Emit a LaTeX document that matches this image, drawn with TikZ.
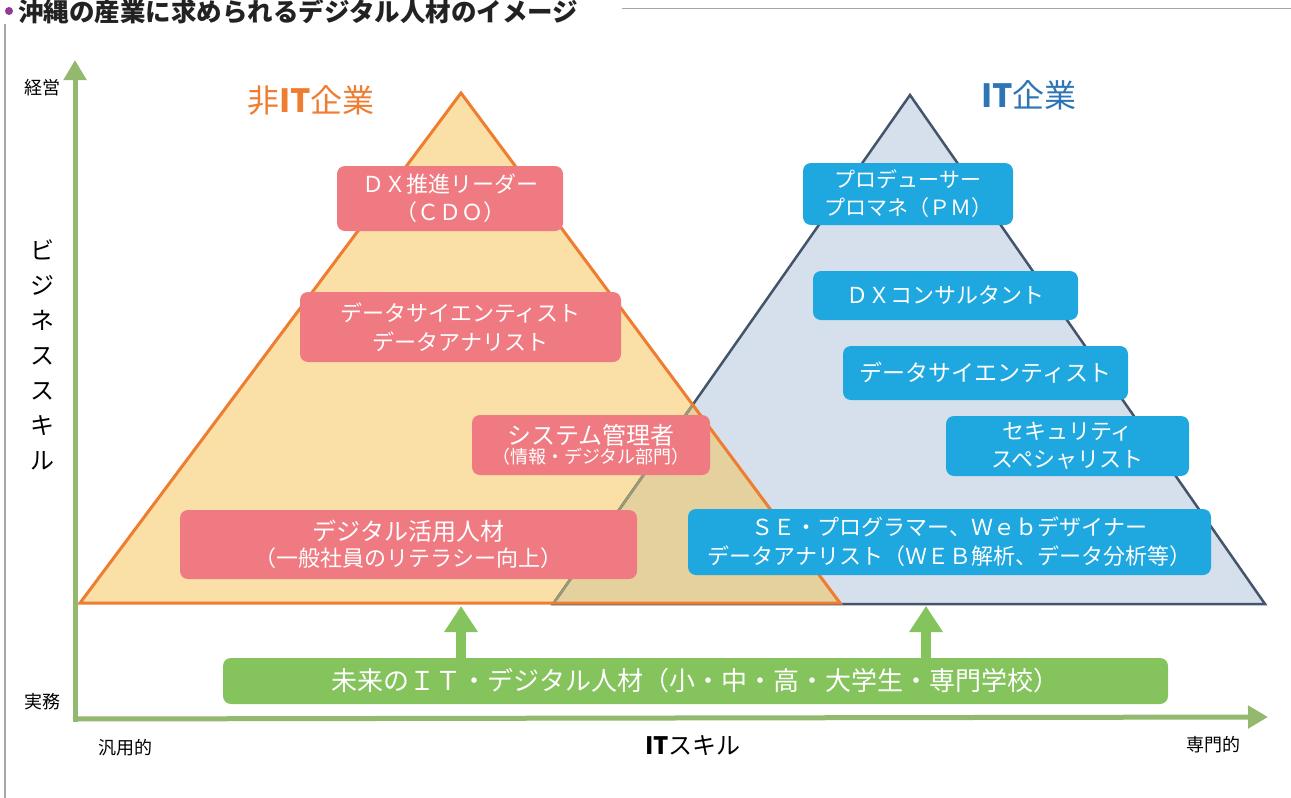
\documentclass[tikz,border=0pt]{standalone}
\usepackage{fontspec}
\setmainfont{Noto Sans CJK JP}
\usetikzlibrary{arrows.meta}
\definecolor{redbox}{HTML}{F07A82}
\definecolor{bluebox}{HTML}{1FA7DF}
\definecolor{greenbox}{HTML}{85C35C}
\definecolor{axisgreen}{HTML}{92B96E}
\definecolor{ofill}{HTML}{FADFA7}
\definecolor{ostroke}{HTML}{EE7D31}
\definecolor{bfill}{HTML}{D5E0EC}
\definecolor{bstroke}{HTML}{44546A}
\definecolor{tanfill}{HTML}{E5D19D}
\definecolor{tanedge}{HTML}{9A9A78}
\definecolor{itblue}{HTML}{2E75B6}
\definecolor{titlegray}{HTML}{222222}
\definecolor{bulletpurple}{HTML}{8E3A96}
\tikzset{
  rolebox/.style={rounded corners=8pt, text=white, align=center, inner sep=0pt},
  redrole/.style={rolebox, fill=redbox},
  bluerole/.style={rolebox, fill=bluebox},
  axislabel/.style={text=black, font=\fontsize{18}{20}\selectfont, inner sep=0pt},
  axisline/.style={axisgreen, line width=5pt, -{Triangle[width=22pt,length=20pt]}},
  uparrow/.style={greenbox, line width=10pt, -{Triangle[width=32pt,length=26pt]}},
}
\begin{document}
\begin{tikzpicture}[x=1pt,y=-1pt]
\useasboundingbox (0,0) rectangle (1291,798);
% frame lines
\draw[gray!70, line width=1pt] (622,8) -- (1291,8);
\draw[gray!70, line width=1.5pt] (5,24) -- (5,798);
% title
\fill[bulletpurple] (9,11) circle (4pt);
\node[anchor=base west, inner sep=0pt, text=titlegray, font=\fontsize{25.5}{27}\selectfont\bfseries] (title) at (18,21) {沖縄の産業に求められるデジタル人材のイメージ};
% triangles
\coordinate (oA) at (461,93); \coordinate (oL) at (80,603); \coordinate (oR) at (840,603);
\coordinate (bA) at (910,95); \coordinate (bL) at (553,604); \coordinate (bR) at (1265,604);
\fill[ofill] (oA) -- (oL) -- (oR) -- cycle;
\fill[bfill] (bA) -- (bL) -- (bR) -- cycle;
\begin{scope}
  \clip (oA) -- (oL) -- (oR) -- cycle;
  \fill[tanfill] (bA) -- (bL) -- (bR) -- cycle;
\end{scope}
\draw[bstroke, line width=2.5pt, line join=miter] (bA) -- (bL) -- (bR) -- cycle;
\begin{scope}
  \clip (oA) -- (oL) -- (oR) -- cycle;
  \draw[tanedge, line width=2.5pt] (bA) -- (bL);
\end{scope}
\draw[ostroke, line width=3pt, line join=miter] (oA) -- (oL) -- (oR) -- cycle;
% group titles
\node[text=ostroke, font=\fontsize{32}{34}\selectfont, inner sep=0pt] (nonit) at (311,100) {非\textbf{IT}企業};
\node[text=itblue, font=\fontsize{32}{34}\selectfont, inner sep=0pt] (it) at (1029,95) {\textbf{IT}企業};
% red role boxes
\node[redrole, minimum width=226pt, minimum height=65pt, font=\fontsize{22}{28}\selectfont] (cdo) at (450,198.5) {ＤＸ推進リーダー\\（ＣＤＯ）};
\node[redrole, minimum width=321pt, minimum height=70pt, font=\fontsize{22}{29}\selectfont] (dsr) at (460.5,327) {データサイエンティスト\\データアナリスト};
\node[redrole, minimum width=238pt, minimum height=60pt] (sys) at (591,445) {{\fontsize{24}{26}\selectfont システム管理者}\\[1pt]{\fontsize{18}{20}\selectfont （情報・デジタル部門）}};
\node[redrole, minimum width=457pt, minimum height=69pt] (dig) at (408.5,544.5) {{\fontsize{24}{26}\selectfont デジタル活用人材}\\[4pt]{\fontsize{22}{24}\selectfont （一般社員のリテラシー向上）}};
% blue role boxes
\node[bluerole, minimum width=210pt, minimum height=62pt, font=\fontsize{21}{28}\selectfont] (pm) at (908,194) {プロデューサー\\プロマネ（ＰＭ）};
\node[bluerole, minimum width=265pt, minimum height=49pt, font=\fontsize{22}{24}\selectfont] (dxc) at (945.5,295.5) {ＤＸコンサルタント};
\node[bluerole, minimum width=285pt, minimum height=54pt, font=\fontsize{23}{25}\selectfont] (dsb) at (985.5,373) {データサイエンティスト};
\node[bluerole, minimum width=243pt, minimum height=60pt, font=\fontsize{22}{28}\selectfont] (sec) at (1067.5,446) {セキュリティ\\スペシャリスト};
\node[bluerole, minimum width=523pt, minimum height=66pt, font=\fontsize{22}{29}\selectfont] (se) at (949.5,542) {ＳＥ・プログラマー、Ｗｅｂデザイナー\\データアナリスト（ＷＥＢ解析、データ分析等）};
% green future box
\node[rolebox, fill=greenbox, minimum width=945pt, minimum height=46pt, font=\fontsize{26}{28}\selectfont] (future) at (695.5,681) {未来のＩＴ・デジタル人材（小・中・高・大学生・専門学校）};
% up arrows
\coordinate (otarget) at (461,606);
\coordinate (btarget) at (926,606);
\draw[uparrow] (future.north -| otarget) -- (otarget);
\draw[uparrow] (future.north -| btarget) -- (btarget);
% axes
\coordinate (origin) at (75,722);
\coordinate (ytip) at (75,60);
\coordinate (xorigin) at (73,719);
\coordinate (xtip) at (1268,717);
\draw[axisline] (origin) -- (ytip);
\draw[axisline] (xorigin) -- (xtip);
% axis labels
\node[axislabel] (keiei) at (42,88) {経営};
\node[axislabel] (jitsumu) at (42,702) {実務};
\node[axislabel] (hanyo) at (125,748) {汎用的};
\node[axislabel] (senmon) at (1213,745) {専門的};
\node[text=black, inner sep=0pt, font=\fontsize{24}{26}\selectfont] (itskill) at (693,746) {\textbf{IT}スキル};
\node[text=black, inner sep=0pt, align=center, font=\fontsize{24}{35}\selectfont] (bizskill) at (42,355) {ビ\\ジ\\ネ\\ス\\ス\\キ\\ル};
\end{tikzpicture}
\end{document}
